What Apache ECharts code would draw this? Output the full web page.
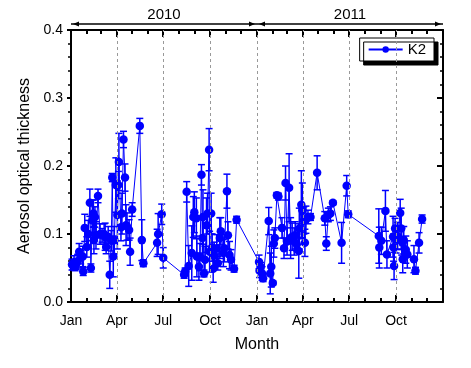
<!DOCTYPE html>
<html><head><meta charset="utf-8">
<script src="https://cdn.jsdelivr.net/npm/echarts@6/dist/echarts.min.js"></script>
<style>html,body{margin:0;padding:0;background:#fff}#c{width:471px;height:368px}</style>
</head><body><div id="c"></div>
<script>
const dates = [
'2010-01-03','2010-01-05','2010-01-07','2010-01-09','2010-01-11','2010-01-14','2010-01-17','2010-01-20','2010-01-24','2010-01-25',
'2010-01-28','2010-02-01','2010-02-04','2010-02-07','2010-02-09','2010-02-12','2010-02-14','2010-02-15','2010-02-17','2010-02-19',
'2010-02-23','2010-02-27','2010-03-03','2010-03-07','2010-03-09','2010-03-11','2010-03-15','2010-03-18','2010-03-21','2010-03-23',
'2010-03-25','2010-03-27','2010-03-30','2010-04-02','2010-04-04','2010-04-05','2010-04-09','2010-04-11','2010-04-14','2010-04-17',
'2010-04-19','2010-04-21','2010-04-25','2010-04-27','2010-05-01','2010-05-16','2010-05-20','2010-05-23','2010-06-19','2010-06-21',
'2010-06-28','2010-07-01','2010-08-11','2010-08-13','2010-08-16','2010-08-20','2010-08-26','2010-08-29','2010-08-31','2010-09-04',
'2010-09-05','2010-09-09','2010-09-11','2010-09-14','2010-09-16','2010-09-17','2010-09-19','2010-09-21','2010-09-24','2010-09-26',
'2010-09-29','2010-09-30','2010-10-03','2010-10-05','2010-10-07','2010-10-09','2010-10-14','2010-10-16','2010-10-20','2010-10-22',
'2010-10-27','2010-10-29','2010-11-03','2010-11-05','2010-11-08','2010-11-11','2010-11-17','2010-11-22',
'2011-01-05','2011-01-06','2011-01-08','2011-01-11','2011-01-13','2011-01-24','2011-01-27','2011-01-29','2011-02-01','2011-02-03',
'2011-02-05','2011-02-09','2011-02-12','2011-02-19','2011-02-23','2011-02-26','2011-03-01','2011-03-05','2011-03-08','2011-03-11',
'2011-03-15','2011-03-17','2011-03-20','2011-03-24','2011-03-25','2011-03-29','2011-03-31','2011-04-03','2011-04-05','2011-04-07',
'2011-04-11','2011-04-16','2011-04-29','2011-05-14','2011-05-17','2011-05-21','2011-05-25','2011-05-30','2011-06-16','2011-06-26',
'2011-06-29','2011-08-28','2011-08-29','2011-09-02','2011-09-10','2011-09-13','2011-09-25','2011-09-26','2011-09-27','2011-09-29',
'2011-10-01','2011-10-04','2011-10-09','2011-10-11','2011-10-12','2011-10-14','2011-10-16','2011-10-20','2011-10-23','2011-11-05',
'2011-11-08','2011-11-15','2011-11-21'
];
const aot = [
0.055,0.054,0.058,0.052,0.056,0.060,0.074,0.066,0.067,0.045,
0.109,0.081,0.100,0.146,0.050,0.120,0.130,0.091,0.125,0.098,
0.156,0.100,0.098,0.100,0.096,0.081,0.096,0.040,0.090,0.183,
0.067,0.091,0.172,0.128,0.172,0.206,0.110,0.130,0.239,0.183,
0.113,0.111,0.106,0.074,0.136,0.259,0.091,0.057,0.087,0.100,
0.129,0.065,0.040,0.045,0.162,0.053,0.072,0.125,0.132,0.123,
0.067,0.052,0.066,0.187,0.094,0.125,0.042,0.062,0.113,0.130,
0.224,0.074,0.130,0.080,0.049,0.068,0.079,0.057,0.094,0.104,
0.072,0.079,0.163,0.098,0.069,0.062,0.049,0.121,
0.059,0.046,0.052,0.042,0.035,0.119,0.042,0.052,0.028,0.086,
0.094,0.157,0.155,0.109,0.079,0.175,0.089,0.168,0.094,0.096,
0.089,0.098,0.085,0.075,0.108,0.143,0.135,0.120,0.087,0.121,
0.125,0.125,0.190,0.123,0.086,0.128,0.130,0.146,0.087,0.171,
0.129,0.097,0.080,0.090,0.134,0.070,0.096,0.080,0.053,0.108,
0.092,0.097,0.131,0.108,0.089,0.063,0.091,0.077,0.070,0.063,
0.046,0.087,0.122
];
const err = [
0.008,0.006,0.010,0.006,0.008,0.010,0.012,0.010,0.015,0.006,
0.020,0.015,0.020,0.020,0.006,0.030,0.020,0.020,0.015,0.020,
0.010,0.015,0.010,0.015,0.020,0.010,0.015,0.020,0.015,0.006,
0.030,0.020,0.040,0.050,0.020,0.042,0.020,0.030,0.012,0.020,
0.030,0.020,0.015,0.020,0.010,0.011,0.030,0.005,0.020,0.030,
0.015,0.015,0.005,0.005,0.015,0.030,0.040,0.030,0.030,0.030,
0.030,0.020,0.020,0.015,0.030,0.040,0.005,0.020,0.040,0.030,
0.031,0.030,0.030,0.020,0.020,0.020,0.020,0.010,0.030,0.020,
0.020,0.020,0.025,0.020,0.020,0.015,0.005,0.005,
0.010,0.010,0.006,0.010,0.005,0.020,0.030,0.030,0.003,0.020,
0.015,0.004,0.005,0.015,0.015,0.025,0.020,0.050,0.030,0.020,
0.020,0.020,0.010,0.040,0.030,0.050,0.040,0.020,0.020,0.020,
0.010,0.005,0.025,0.010,0.010,0.010,0.010,0.003,0.030,0.015,
0.005,0.040,0.030,0.020,0.030,0.020,0.030,0.020,0.020,0.015,
0.020,0.020,0.020,0.030,0.020,0.020,0.020,0.020,0.020,0.020,
0.005,0.015,0.006
];
const seriesName = 'K2';
const monthNames = ['Jan','Feb','Mar','Apr','May','Jun','Jul','Aug','Sep','Oct','Nov','Dec'];
const xStart = '2010-01-01', xEnd = '2012-01-01';
const quarterDates = ['2010-01-01','2010-04-01','2010-07-01','2010-10-01','2011-01-01','2011-04-01','2011-07-01','2011-10-01','2012-01-01'];
const labelDates = ['2010-01-01','2010-04-01','2010-07-01','2010-10-01','2011-01-01','2011-04-01','2011-07-01','2011-10-01'];
const gridDates = ['2010-04-01','2010-07-01','2010-10-01','2011-01-01','2011-04-01','2011-07-01','2011-10-01'];
const yearSpans = [['2010','2010-01-01','2011-01-01'],['2011','2011-01-01','2012-01-01']];

function parse(s){const p=s.split('-').map(Number);return new Date(p[0],p[1]-1,p[2]).getTime();}
const monthTicks=[];
for(let y=2010;y<=2011;y++)for(let m=0;m<12;m++)monthTicks.push(new Date(y,m,1).getTime());
monthTicks.push(parse(xEnd));

const blue='#0000ff';
const font='Liberation Sans';
const chart=echarts.init(document.getElementById('c'),null,{renderer:'canvas'});
const baseX={type:'value',min:parse(xStart),max:parse(xEnd),gridIndex:0,splitLine:{show:false},scale:true};
const axLine={show:true,lineStyle:{color:'#000',width:2}};
const opt={
  animation:false,
  backgroundColor:'#fff',
  grid:{left:71,right:28,top:30,bottom:66},
  legend:{data:[seriesName],right:37,top:38,backgroundColor:'#fff',borderColor:'#000',borderWidth:1,
    shadowColor:'#000',shadowOffsetX:4,shadowOffsetY:4,shadowBlur:0,padding:[4,8,4,8],
    itemWidth:34,itemHeight:8,itemGap:4,textStyle:{fontFamily:font,fontSize:15,color:'#000'}},
  xAxis:[
    Object.assign({},baseX,{position:'bottom',axisLine:axLine,
      axisTick:{show:true,inside:true,length:4,customValues:monthTicks,lineStyle:{color:'#000',width:2}},
      axisLabel:{show:true,customValues:labelDates.map(parse),margin:12,fontFamily:font,fontSize:14,color:'#000',
        formatter:v=>monthNames[new Date(v).getMonth()]},
      name:'Month',nameLocation:'middle',nameGap:35,nameTextStyle:{fontFamily:font,fontSize:16,color:'#000'}}),
    Object.assign({},baseX,{position:'bottom',axisLine:{show:false},
      axisTick:{show:true,inside:true,length:7,customValues:quarterDates.map(parse),lineStyle:{color:'#000',width:2}},
      axisLabel:{show:false}}),
    Object.assign({},baseX,{position:'top',axisLine:axLine,
      axisTick:{show:true,inside:true,length:4,customValues:monthTicks,lineStyle:{color:'#000',width:2}},
      axisLabel:{show:false}}),
    Object.assign({},baseX,{position:'top',axisLine:{show:false},
      axisTick:{show:true,inside:true,length:7,customValues:quarterDates.map(parse),lineStyle:{color:'#000',width:2}},
      axisLabel:{show:false}})
  ],
  yAxis:[
    {type:'value',min:0,max:0.4,interval:0.1,position:'left',axisLine:axLine,
      axisTick:{show:true,inside:false,length:4,lineStyle:{color:'#000',width:2}},
      minorTick:{show:true,splitNumber:5,length:3,lineStyle:{color:'#000',width:1.5}},
      splitLine:{show:false},
      axisLabel:{margin:8,fontFamily:font,fontSize:14,color:'#000',formatter:v=>v.toFixed(1)},
      name:'Aerosol optical thickness',nameLocation:'middle',nameGap:34,
      nameTextStyle:{fontFamily:font,fontSize:16,color:'#000'}},
    {type:'value',min:0,max:0.4,interval:0.1,position:'right',axisLine:axLine,
      axisTick:{show:true,inside:true,length:6,lineStyle:{color:'#000',width:2}},
      minorTick:{show:true,splitNumber:5,length:3,lineStyle:{color:'#000',width:1.5}},
      splitLine:{show:false},axisLabel:{show:false}}
  ],
  series:[
    {type:'custom',name:'err',xAxisIndex:0,yAxisIndex:0,silent:true,z:2,
      data:dates.map((d,i)=>[parse(d),aot[i],err[i]]),
      encode:{x:0,y:1},
      renderItem:function(params,api){
        const x=api.value(0),y=api.value(1),e=api.value(2);
        const t=api.coord([x,y+e]),b=api.coord([x,y-e]);
        const cw=3.5,st={stroke:blue,lineWidth:1.5,fill:null};
        return {type:'group',children:[
          {type:'line',shape:{x1:t[0],y1:t[1],x2:b[0],y2:b[1]},style:st},
          {type:'line',shape:{x1:t[0]-cw,y1:t[1],x2:t[0]+cw,y2:t[1]},style:st},
          {type:'line',shape:{x1:b[0]-cw,y1:b[1],x2:b[0]+cw,y2:b[1]},style:st}
        ]};
      }},
    {type:'line',name:seriesName,xAxisIndex:0,yAxisIndex:0,z:3,
      data:dates.map((d,i)=>[parse(d),aot[i]]),
      symbol:'circle',symbolSize:8.5,showAllSymbol:true,
      itemStyle:{color:blue},lineStyle:{color:blue,width:1},
      markLine:{silent:true,symbol:'none',label:{show:false},animation:false,
        lineStyle:{color:'#999999',type:[3,3],width:1},
        data:gridDates.map(d=>({xAxis:parse(d)}))}}
  ]
};
chart.setOption(opt);

// year spans above the plot, positioned through the axis scale
const yTop = chart.convertToPixel({yAxisIndex:0},0.4);
const g=[];
yearSpans.forEach(s=>{
  const x1=chart.convertToPixel({xAxisIndex:0},parse(s[1]));
  const x2=chart.convertToPixel({xAxisIndex:0},parse(s[2]));
  const yy=yTop-6;
  g.push({type:'line',shape:{x1:x1,y1:yy,x2:x2,y2:yy},style:{stroke:'#000',lineWidth:1.5}});
  g.push({type:'polygon',shape:{points:[[x1+2,yy],[x1+8,yy-2.5],[x1+8,yy+2.5]]},style:{fill:'#000'}});
  g.push({type:'polygon',shape:{points:[[x2-2,yy],[x2-8,yy-2.5],[x2-8,yy+2.5]]},style:{fill:'#000'}});
  g.push({type:'text',x:(x1+x2)/2,y:yy-2,style:{text:s[0],fontFamily:font,fontSize:15,fill:'#000',align:'center',verticalAlign:'bottom'}});
});
chart.setOption({graphic:g});
</script></body></html>
